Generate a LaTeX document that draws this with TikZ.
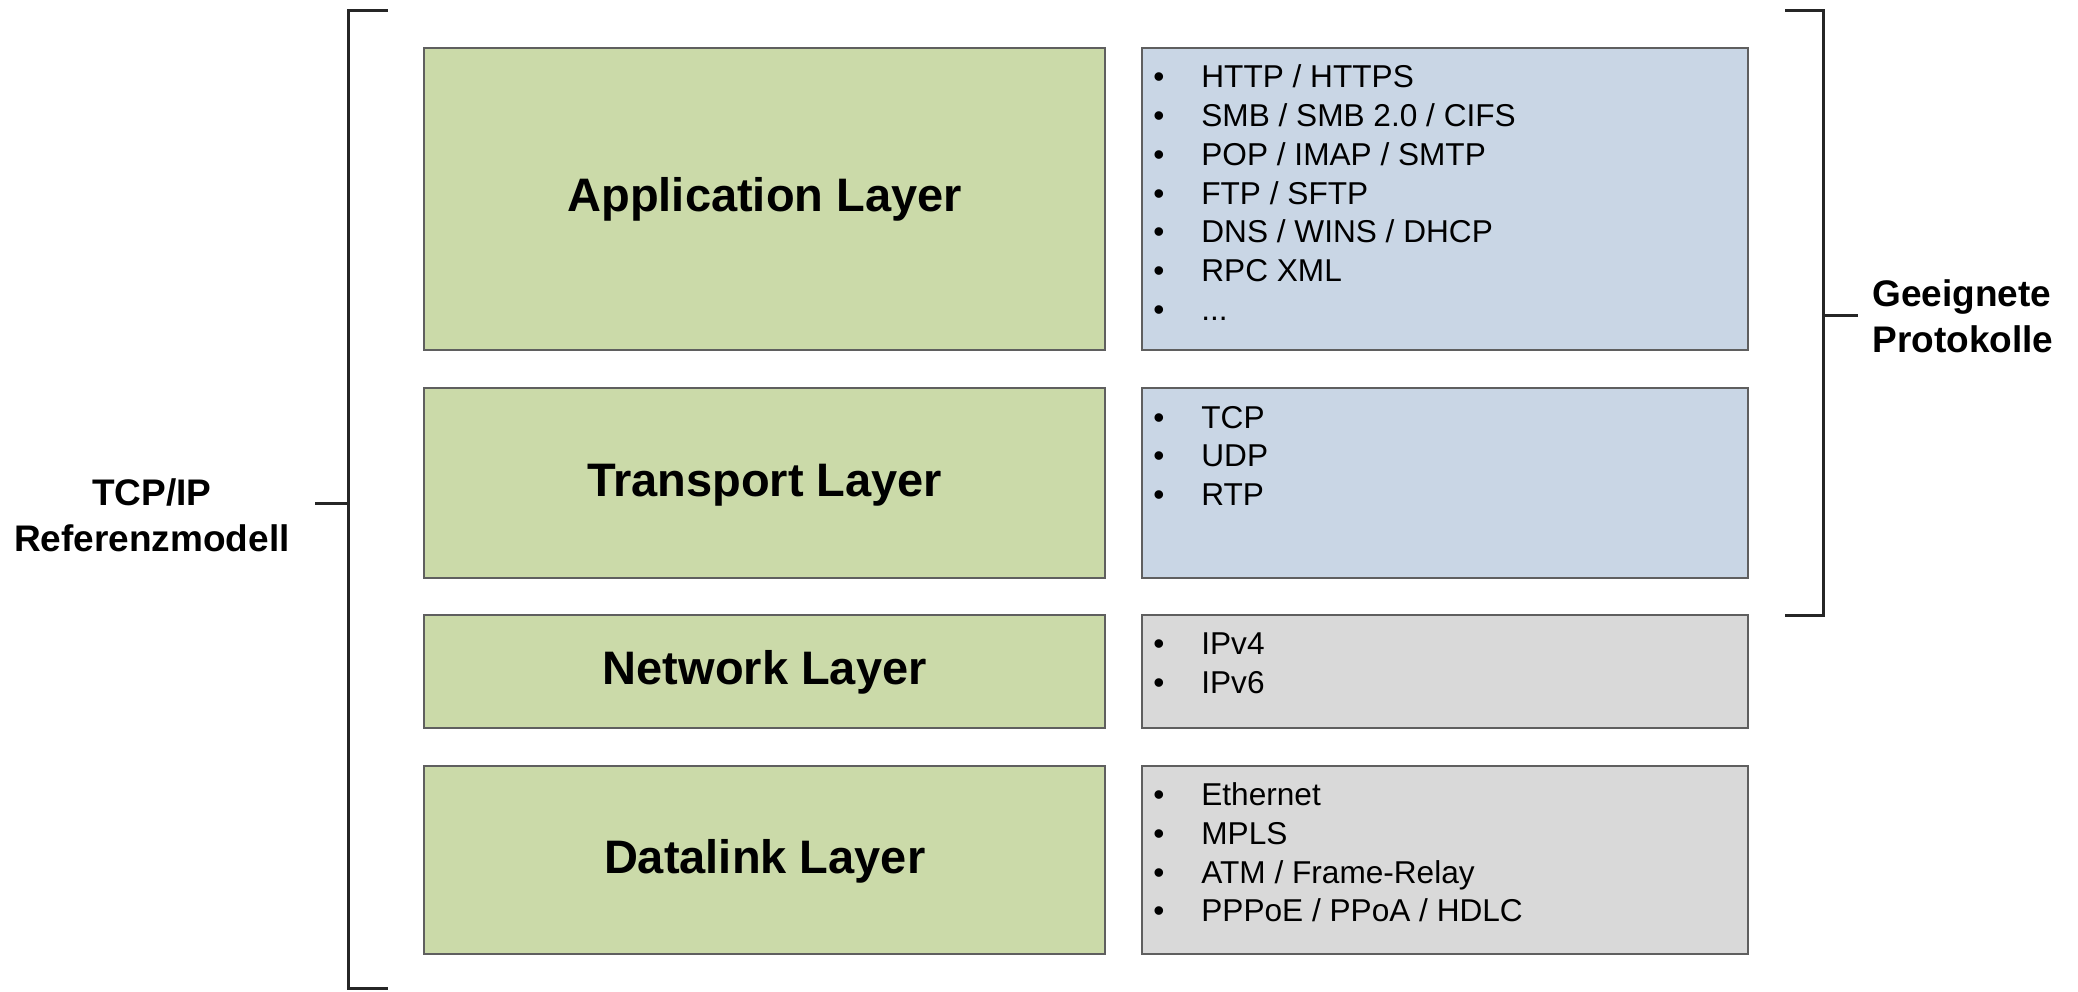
\documentclass[tikz,border=0pt]{standalone}
\usepackage{fontspec}
\setmainfont{Liberation Sans}

\definecolor{layergreen}{RGB}{203,218,169}
\definecolor{protoblue}{RGB}{201,214,229}
\definecolor{protogray}{RGB}{217,217,217}
\definecolor{boxline}{RGB}{95,95,95}
\newcommand{\pitem}{\makebox[24pt][l]{\textbullet}}

\begin{document}
\begin{tikzpicture}[x=0.5pt, y=-0.5pt,
    layer/.style ={rectangle, draw=boxline, line width=1pt, fill=layergreen, inner sep=0pt,
                   font=\fontsize{23.5}{28}\selectfont\bfseries, text height=17pt, text depth=4pt},
    protobox/.style ={rectangle, draw=boxline, line width=1pt, inner sep=0pt},
    protolist/.style ={anchor=base west, inner sep=0pt, align=left,
                   font=\fontsize{15.8}{19.4}\selectfont},
    brace/.style ={line width=1.5pt, draw=black!85},
    side/.style ={inner sep=0pt, font=\fontsize{18.5}{22.8}\selectfont\bfseries}]
   \useasboundingbox (0,0) rectangle (2078,991);

   % layers
   \node[layer, minimum width=340.6pt, minimum height=151.1pt] (app)   at (764.7,198.8) {Application Layer};
   \node[layer, minimum width=340.6pt, minimum height=94.75pt] (trans) at (764.7,483.05) {Transport Layer};
   \node[layer, minimum width=340.6pt, minimum height=56.3pt]  (net)   at (764.7,671.3) {Network Layer};
   \node[layer, minimum width=340.6pt, minimum height=94.1pt]  (link)  at (764.7,860.1) {Datalink Layer};

   % protocols (lists sit on the baseline of their last line)
   \node[protobox, fill=protoblue, minimum width=302.85pt, minimum height=151.1pt] (appP)   at (1445.25,198.8) {};
   \node[protobox, fill=protoblue, minimum width=302.85pt, minimum height=94.75pt] (transP) at (1445.25,483.05) {};
   \node[protobox, fill=protogray, minimum width=302.85pt, minimum height=56.3pt]  (netP)   at (1445.25,671.3) {};
   \node[protobox, fill=protogray, minimum width=302.85pt, minimum height=94.1pt]  (linkP)  at (1445.25,860.1) {};

   \node[protolist] (appL) at (1153,320.5) {\pitem HTTP / HTTPS\\ \pitem SMB / SMB 2.0 / CIFS\\
      \pitem POP / IMAP / SMTP\\ \pitem FTP / SFTP\\ \pitem DNS / WINS / DHCP\\ \pitem RPC XML\\ \pitem ...};
   \node[protolist] (transL) at (1153,505.6) {\pitem TCP\\ \pitem UDP\\ \pitem RTP};
   \node[protolist] (netL) at (1153,693.3) {\pitem IPv4\\ \pitem IPv6};
   \node[protolist] (linkL) at (1153,921.9) {\pitem Ethernet\\ \pitem MPLS\\
      \pitem ATM / Frame-Relay\\ \pitem PPPoE / PPoA / HDLC};

   % brackets
   \node[side, align=center] (model) at (152,515) {TCP/IP\\Referenzmodell};
   \node[side, align=left, anchor=west] (proto) at (1872,316) {Geeignete\\Protokolle};

   \coordinate (lmid) at (348.5,503.6);
   \coordinate (rmid) at (1823.6,315.4);
   \draw[brace] (387.5,10.6) -- (348.5,10.6) -- (348.5,988.7) -- (387.5,988.7);
   \draw[brace] (lmid) -- (315.4,503.6);
   \draw[brace] (1785,10.6) -- (1823.6,10.6) -- (1823.6,615) -- (1785,615);
   \draw[brace] (rmid) -- (1858,315.4);
\end{tikzpicture}
\end{document}
